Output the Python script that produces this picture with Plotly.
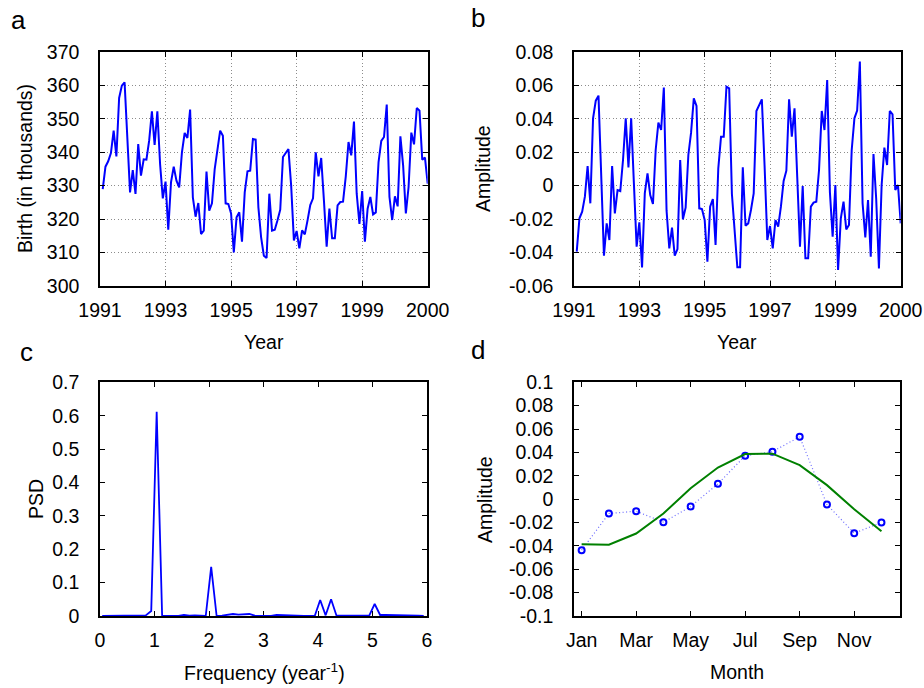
import plotly.graph_objects as go

# ---------------- data ----------------
months_idx = list(range(1, 121))
births = [329.0, 335.7, 337.3, 339.8, 346.5, 338.8, 356.3, 360.0, 361.0, 344.0,
          328.0, 334.7, 327.5, 342.5, 333.0, 337.9, 337.8, 343.5, 352.3, 342.2,
          352.3, 336.5, 326.2, 331.2, 316.8, 331.0, 335.7, 331.5, 329.5, 340.0,
          345.8, 344.3, 352.8, 326.5, 320.7, 324.8, 315.5, 316.5, 334.2, 322.5,
          324.7, 335.0, 340.5, 346.5, 345.0, 324.7, 324.5, 321.7, 310.0, 320.5,
          322.0, 313.2, 328.0, 334.3, 334.5, 344.0, 343.8, 323.5, 314.5, 309.0,
          308.3, 327.6, 316.5, 316.8, 319.6, 322.8, 338.6, 339.8, 341.0, 330.0,
          313.6, 316.4, 311.2, 316.6, 315.4, 319.6, 324.2, 326.2, 340.0, 332.8,
          338.3, 325.6, 311.7, 323.1, 314.2, 314.2, 324.1, 325.1, 325.2, 332.8,
          343.1, 339.1, 349.2, 327.6, 318.5, 328.4, 313.2, 323.1, 326.6, 321.4,
          322.0, 337.1, 343.4, 344.6, 354.3, 326.6, 319.7, 326.8, 323.8, 344.8,
          336.1, 321.7, 329.6, 345.9, 342.4, 353.3, 352.5, 337.8, 338.4, 330.6]

amplitude = [-0.0396, -0.0196, -0.0156, -0.0066, 0.0118, -0.0106, 0.0404, 0.0510, 0.0540, 0.0060,
             -0.0420, -0.0226, -0.0326, 0.0118, -0.0166, -0.0026, -0.0032, 0.0154, 0.0404, 0.0110,
             0.0404, 0.0014, -0.0366, -0.0220, -0.0490, -0.0046, 0.0074, -0.0056, -0.0110, 0.0214,
             0.0378, 0.0334, 0.0588, -0.0150, -0.0376, -0.0252, -0.0420, -0.0380, 0.0154, -0.0202,
             -0.0132, 0.0184, 0.0318, 0.0524, 0.0478, -0.0136, -0.0140, -0.0206, -0.0456, -0.0126,
             -0.0080, -0.0356, 0.0104, 0.0294, 0.0294, 0.0594, 0.0584, -0.0050, -0.0300, -0.0490,
             -0.0490, 0.0110, -0.0240, -0.0226, -0.0146, -0.0046, 0.0448, 0.0484, 0.0518, 0.0120,
             -0.0326, -0.0242, -0.0376, -0.0206, -0.0246, -0.0126, 0.0028, 0.0090, 0.0518, 0.0294,
             0.0464, 0.0050, -0.0366, -0.0002, -0.0436, -0.0436, -0.0126, -0.0102, -0.0096, 0.0094,
             0.0448, 0.0334, 0.0634, -0.0040, -0.0306, 0.0004, -0.0506, -0.0196, -0.0096, -0.0262,
             -0.0236, 0.0214, 0.0404, 0.0450, 0.0744, -0.0106, -0.0310, -0.0086, -0.0426, 0.0190,
             -0.0080, -0.0496, 0.0004, 0.0228, 0.0124, 0.0448, 0.0428, -0.0026, 0.0004, -0.0226]

year_tickvals = [0, 24, 48, 72, 96, 120]
year_ticklabels = ["1991", "1993", "1995", "1997", "1999", "2000"]

freq = [round(0.04 + 0.1 * k, 2) for k in range(60)]
psd = [0, 0, 0, 0, 0, 0, 0, 0, 0.002, 0.015,
       0.612, 0, 0, 0, 0, 0.003, 0.001, 0.002, 0.002, 0,
       0.147, 0, 0.001, 0.003, 0.006, 0.004, 0.004, 0.006, 0.001, 0,
       0, 0, 0.003, 0.002, 0.001, 0, 0, 0, 0, 0,
       0.048, 0.002, 0.050, 0.001, 0.001, 0.001, 0.001, 0.001, 0.001, 0.001,
       0.036, 0.003, 0.003, 0.003, 0.001, 0.001, 0.001, 0.002, 0.001, 0]

month_num = list(range(1, 13))
month_ticklabels = ["Jan", "Mar", "May", "Jul", "Sep", "Nov"]
month_tickvals = [1, 3, 5, 7, 9, 11]
monthly_mean = [-0.0437, -0.0123, -0.0103, -0.0197, -0.0063, 0.0131,
                0.0371, 0.0406, 0.0534, -0.0046, -0.0291, -0.0200]
monthly_fit = [-0.0386, -0.0390, -0.0294, -0.0123, 0.0094, 0.0271,
               0.0386, 0.0389, 0.0291, 0.0120, -0.0086, -0.0274]

# ---------------- styling ----------------
W, H = 924, 688
FONT = "Liberation Sans, Arial, sans-serif"
FS = 19.5
BLUE = "#0000ff"


def fx(px):
    return px / W


def fy(py):
    return 1 - py / H


def num_lbl(v):
    if abs(v) < 1e-12:
        return "0"
    return "{:g}".format(v)


def axis_common(**kw):
    d = dict(showline=True, linecolor="black", linewidth=1.5, mirror="ticks",
             ticks="inside", ticklen=5, tickwidth=1.2, tickcolor="black",
             zeroline=False, showgrid=False, automargin=False,
             tickfont=dict(family=FONT, size=FS, color="black"))
    d.update(kw)
    return d


grid_kw = dict(showgrid=True, gridcolor="#8c8c8c", griddash="1px,2.5px", gridwidth=1)

fig = go.Figure()

fig.add_trace(go.Scatter(x=months_idx, y=births, mode="lines",
                         line=dict(color=BLUE, width=2), xaxis="x", yaxis="y",
                         showlegend=False))
fig.add_trace(go.Scatter(x=months_idx, y=amplitude, mode="lines",
                         line=dict(color=BLUE, width=2), xaxis="x2", yaxis="y2",
                         showlegend=False))
fig.add_trace(go.Scatter(x=freq, y=psd, mode="lines",
                         line=dict(color=BLUE, width=1.8), xaxis="x3", yaxis="y3",
                         showlegend=False))
fig.add_trace(go.Scatter(x=month_num, y=monthly_mean, mode="lines+markers",
                         line=dict(color="#6a6aff", width=1.2, dash="1px,2.5px"),
                         marker=dict(symbol="circle-open", size=6, color=BLUE,
                                     line=dict(width=2, color=BLUE)),
                         xaxis="x4", yaxis="y4", showlegend=False))
fig.add_trace(go.Scatter(x=month_num, y=monthly_fit, mode="lines",
                         line=dict(color="#008000", width=2),
                         xaxis="x4", yaxis="y4", showlegend=False))

top_dom = [fy(285.7), fy(52.3)]
bot_dom = [fy(616), fy(382.3)]

a_y = [300, 310, 320, 330, 340, 350, 360, 370]
b_y = [-0.06, -0.04, -0.02, 0, 0.02, 0.04, 0.06, 0.08]
c_y = [0, 0.1, 0.2, 0.3, 0.4, 0.5, 0.6, 0.7]
c_x = [0, 1, 2, 3, 4, 5, 6]
d_y = [-0.1, -0.08, -0.06, -0.04, -0.02, 0, 0.02, 0.04, 0.06, 0.08, 0.1]

fig.update_layout(
    template="none",
    width=W, height=H, margin=dict(l=0, r=0, t=0, b=0, pad=0, autoexpand=False),
    paper_bgcolor="white", plot_bgcolor="white",
    font=dict(family=FONT, size=FS, color="black"),
    xaxis=axis_common(domain=[fx(100), fx(427.7)], range=[0, 120], anchor="y",
                      tickvals=year_tickvals, ticktext=year_ticklabels,
                      ticklabelstandoff=6, **grid_kw),
    yaxis=axis_common(domain=top_dom, range=[300, 370], anchor="x",
                      tickvals=a_y, ticktext=[str(v) for v in a_y],
                      ticklabelstandoff=15, **grid_kw),
    xaxis2=axis_common(domain=[fx(574), fx(900.7)], range=[0, 120], anchor="y2",
                       tickvals=year_tickvals, ticktext=year_ticklabels,
                       ticklabelstandoff=6, **grid_kw),
    yaxis2=axis_common(domain=top_dom, range=[-0.06, 0.08], anchor="x2",
                       tickvals=b_y, ticktext=[num_lbl(v) for v in b_y],
                       ticklabelstandoff=15, **grid_kw),
    xaxis3=axis_common(domain=[fx(100), fx(427)], range=[0, 6], anchor="y3",
                       tickvals=c_x, ticktext=[str(v) for v in c_x],
                       ticklabelstandoff=6, layer="below traces"),
    yaxis3=axis_common(domain=bot_dom, range=[0, 0.7], anchor="x3",
                       tickvals=c_y, ticktext=[num_lbl(v) for v in c_y],
                       ticklabelstandoff=15),
    xaxis4=axis_common(domain=[fx(574), fx(900)], range=[0.72, 12.68], anchor="y4",
                       tickvals=month_tickvals, ticktext=month_ticklabels,
                       ticklabelstandoff=6),
    yaxis4=axis_common(domain=bot_dom, range=[-0.1, 0.1], anchor="x4",
                       tickvals=d_y, ticktext=[num_lbl(v) for v in d_y],
                       ticklabelstandoff=15),
)

annotations = []


def ann(text, x, y, size=FS, angle=0):
    annotations.append(dict(text=text, x=fx(x), y=fy(y), xref="paper", yref="paper",
                            showarrow=False, xanchor="center", yanchor="middle",
                            textangle=angle,
                            font=dict(family=FONT, size=size, color="black")))


# panel letters
ann("a", 18, 20, size=26)
ann("b", 478, 18, size=26)
ann("c", 26, 352, size=26)
ann("d", 478, 350, size=26)
# axis titles
ann("Birth (in thousands)", 25, 169, angle=-90)
ann("Year", 264, 342)
ann("Amplitude", 483, 169, angle=-90)
ann("Year", 737, 342)
ann("PSD", 36, 499, angle=-90)
ann("Frequency (year<sup>-1</sup>)", 264, 672)
ann("Amplitude", 485, 499, angle=-90)
ann("Month", 737, 672)

fig.update_layout(annotations=annotations)

fig.write_html("out.html")
